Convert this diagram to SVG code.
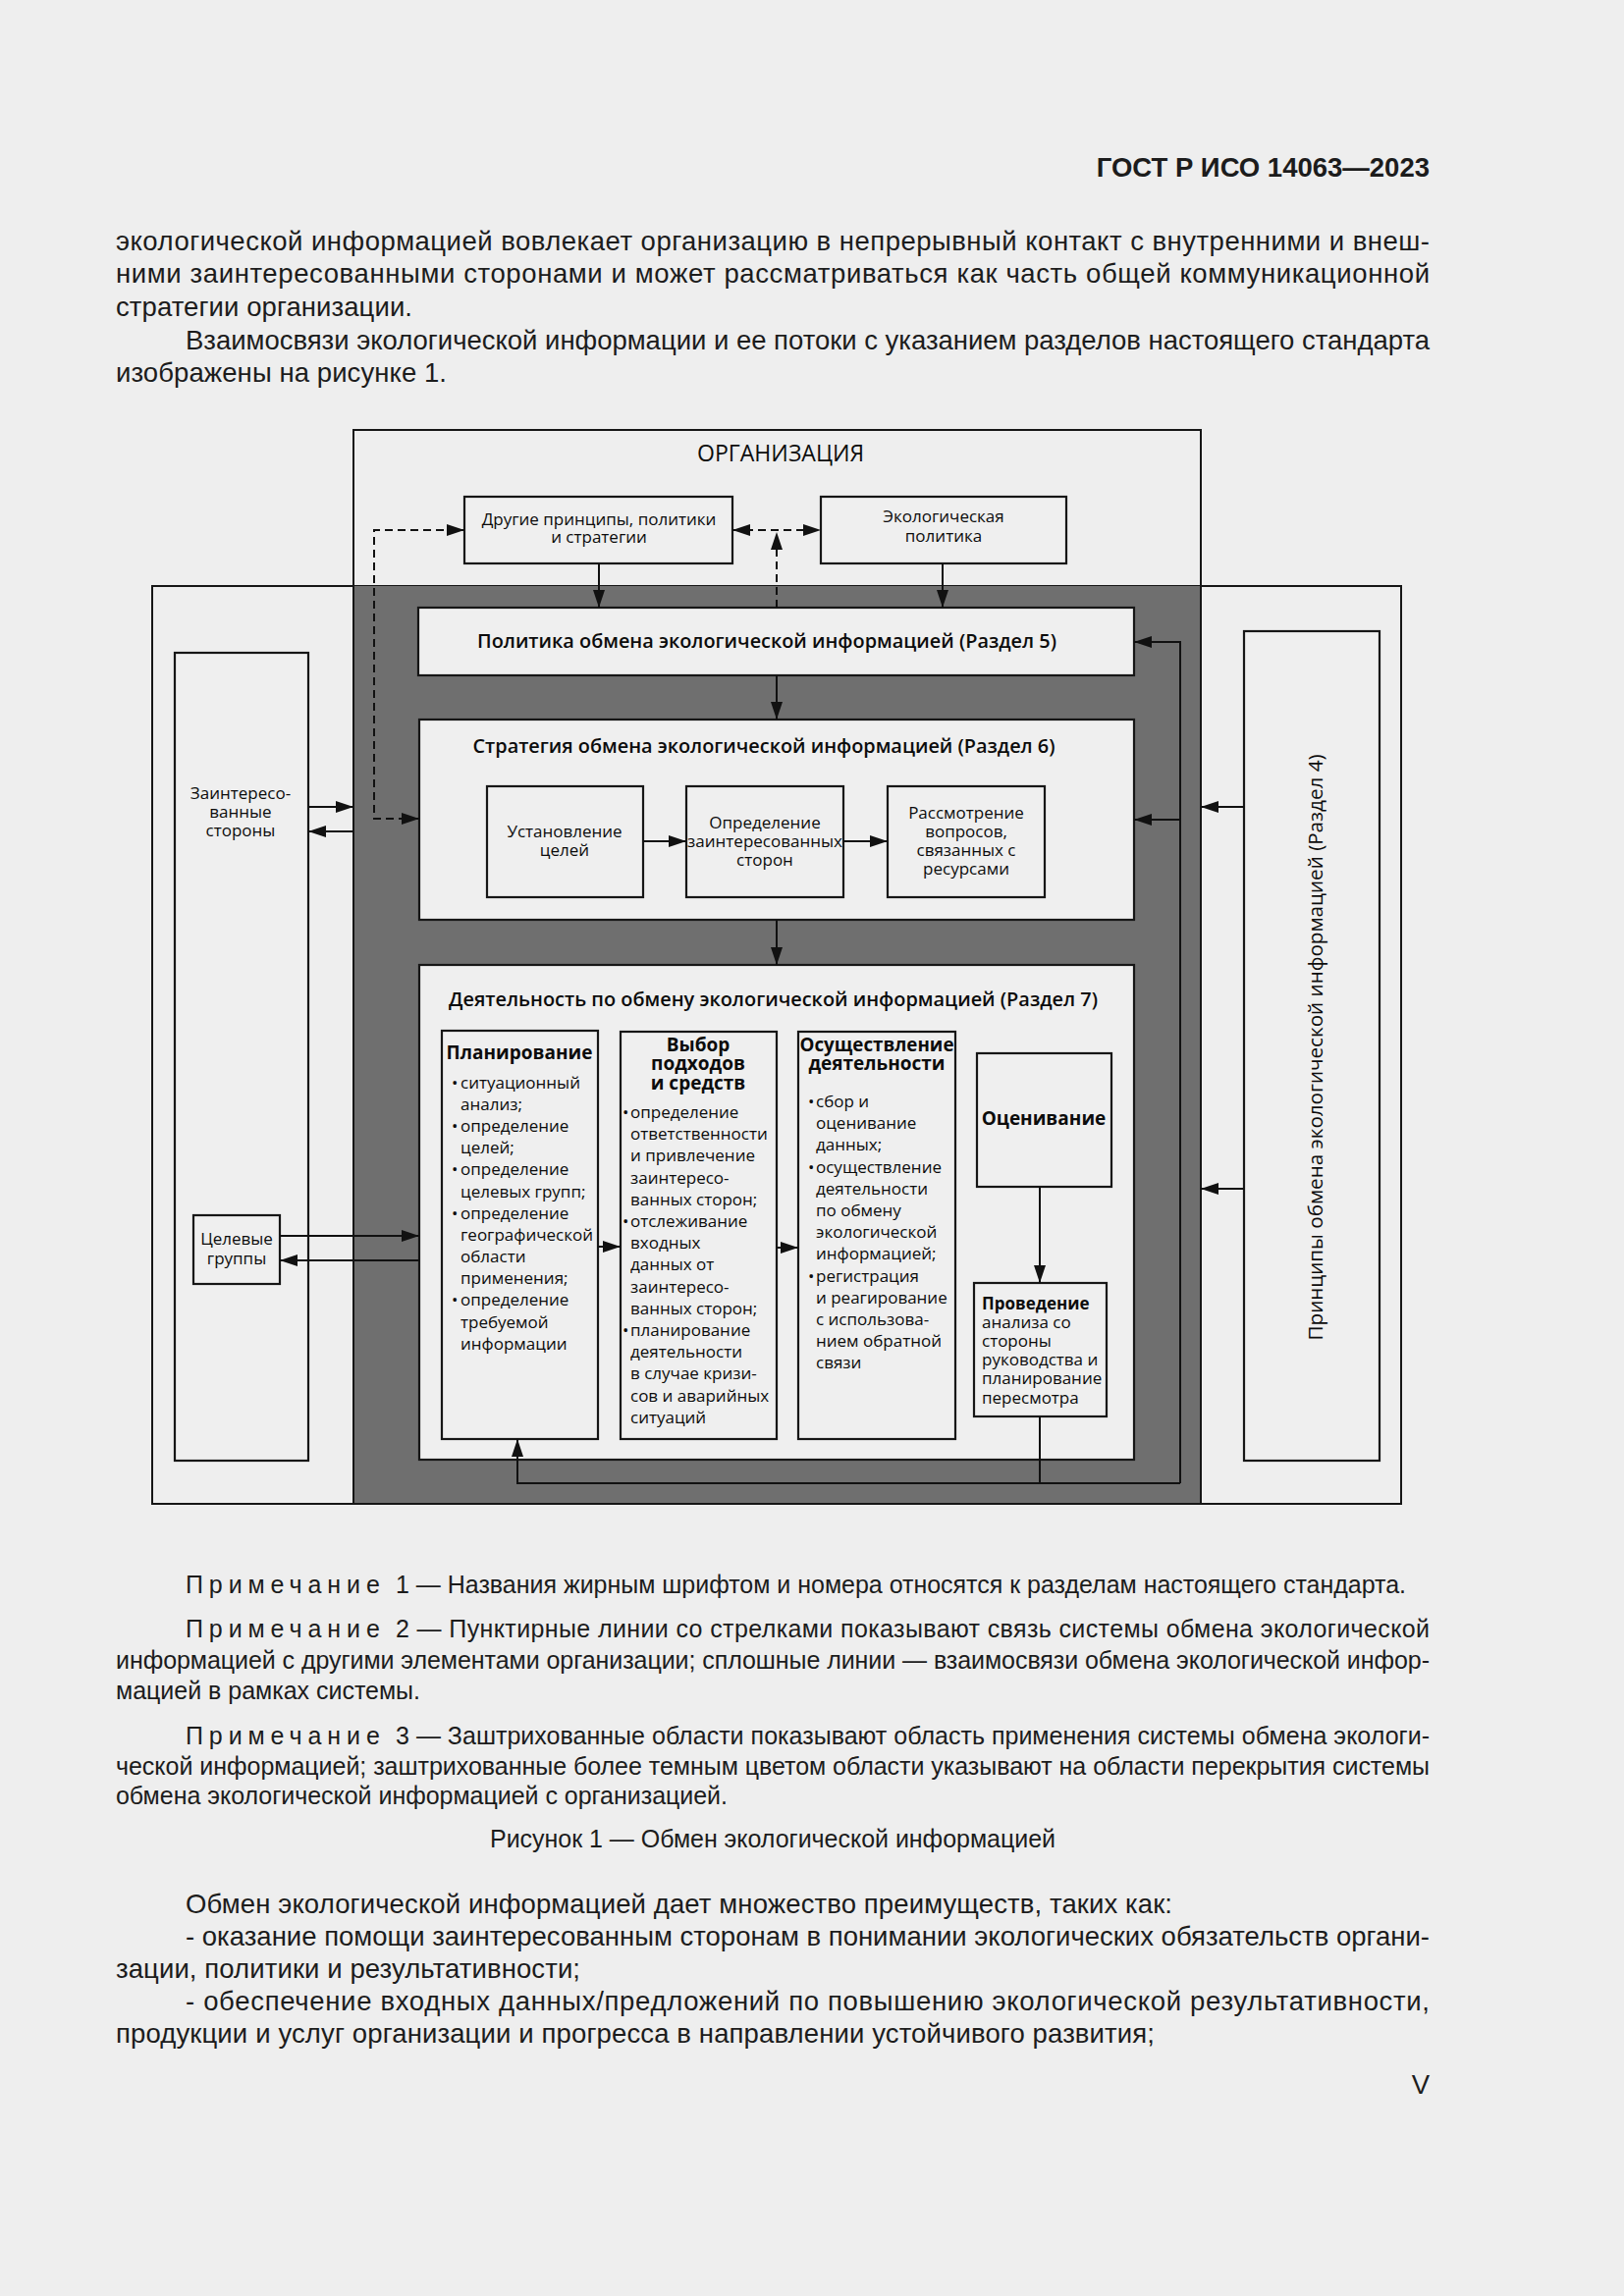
<svg xmlns="http://www.w3.org/2000/svg" width="1654" height="2339" viewBox="0 0 1654 2339">
<style>
.pg{font-family:"Liberation Sans",Arial,sans-serif;fill:#1c1c1c}
.b{font-size:27.5px}
.n{font-size:25px}
.d{font-family:"Open Sans","Noto Sans",sans-serif;fill:#0c0c0c;font-size:17px}
.c{text-anchor:middle}
.t{font-weight:600;font-size:19px}
.h{font-weight:700;font-size:19px}
.org{font-size:23px}
.rot{font-size:20px}
.box{fill:#efefef;stroke:#161616;stroke-width:2.2}
.frame{fill:none;stroke:#161616;stroke-width:2}
.ln{fill:none;stroke:#111;stroke-width:2}
.ds{fill:none;stroke:#111;stroke-width:2;stroke-dasharray:8 5}
</style>
<defs>
<marker id="ah" viewBox="0 0 18 12" markerWidth="18" markerHeight="12" refX="18" refY="6" orient="auto-start-reverse" markerUnits="userSpaceOnUse"><path d="M0,0 L18,6 L0,12 z" fill="#111"/></marker>
</defs>
<rect x="0" y="0" width="1654" height="2339" fill="#eeeeee"/>

<g id="page-text" class="pg">
<text x="1456" y="180" font-size="27.5" font-weight="700" text-anchor="end">ГОСТ Р ИСО 14063—2023</text>
<text class="b" x="118" y="255" textLength="1338" lengthAdjust="spacing">экологической информацией вовлекает организацию в непрерывный контакт с внутренними и внеш-</text>
<text class="b" x="118" y="288" textLength="1338" lengthAdjust="spacing">ними заинтересованными сторонами и может рассматриваться как часть общей коммуникационной</text>
<text class="b" x="118" y="322" textLength="302" lengthAdjust="spacing">стратегии организации.</text>
<text class="b" x="189" y="356" textLength="1267" lengthAdjust="spacing">Взаимосвязи экологической информации и ее потоки с указанием разделов настоящего стандарта</text>
<text class="b" x="118" y="389" textLength="337" lengthAdjust="spacing">изображены на рисунке 1.</text>

<text class="n" x="189" y="1623" letter-spacing="5.9">Примечание</text>
<text class="n" x="403" y="1623" textLength="1029" lengthAdjust="spacing">1 — Названия жирным шрифтом и номера относятся к разделам настоящего стандарта.</text>
<text class="n" x="189" y="1668" letter-spacing="5.9">Примечание</text>
<text class="n" x="403" y="1668" textLength="1053" lengthAdjust="spacing">2 — Пунктирные линии со стрелками показывают связь системы обмена экологической</text>
<text class="n" x="118" y="1700" textLength="1338" lengthAdjust="spacing">информацией с другими элементами организации; сплошные линии — взаимосвязи обмена экологической инфор-</text>
<text class="n" x="118" y="1731" textLength="310" lengthAdjust="spacing">мацией в рамках системы.</text>
<text class="n" x="189" y="1777" letter-spacing="5.9">Примечание</text>
<text class="n" x="403" y="1777" textLength="1053" lengthAdjust="spacing">3 — Заштрихованные области показывают область применения системы обмена экологи-</text>
<text class="n" x="118" y="1808" textLength="1338" lengthAdjust="spacing">ческой информацией; заштрихованные более темным цветом области указывают на области перекрытия системы</text>
<text class="n" x="118" y="1838" textLength="623" lengthAdjust="spacing">обмена экологической информацией с организацией.</text>
<text class="n" x="499" y="1882" textLength="576" lengthAdjust="spacing">Рисунок 1 — Обмен экологической информацией</text>

<text class="b" x="189" y="1949" textLength="1005" lengthAdjust="spacing">Обмен экологической информацией дает множество преимуществ, таких как:</text>
<text class="b" x="189" y="1982" textLength="1267" lengthAdjust="spacing">- оказание помощи заинтересованным сторонам в понимании экологических обязательств органи-</text>
<text class="b" x="118" y="2015" textLength="473" lengthAdjust="spacing">зации, политики и результативности;</text>
<text class="b" x="189" y="2048" textLength="1267" lengthAdjust="spacing">- обеспечение входных данных/предложений по повышению экологической результативности,</text>
<text class="b" x="118" y="2081" textLength="1058" lengthAdjust="spacing">продукции и услуг организации и прогресса в направлении устойчивого развития;</text>
<text class="b" x="1456" y="2133" text-anchor="end">V</text>
</g>

<g id="outer-frame">
<rect class="frame" x="155" y="597" width="1272" height="935"/>
</g>
<g id="shaded-area">
<rect x="360" y="597" width="863" height="935" fill="#6f6f6f"/>
</g>
<g id="organization">
<rect class="frame" x="360" y="438" width="863" height="1094"/>
<text class="d c org" x="795" y="470" textLength="170" lengthAdjust="spacingAndGlyphs">ОРГАНИЗАЦИЯ</text>
</g>

<g id="other-principles">
<rect class="box" x="473" y="506" width="273" height="68"/>
<text class="d c" x="610" y="535">Другие принципы, политики</text>
<text class="d c" x="610" y="553">и стратегии</text>
</g>
<g id="env-policy">
<rect class="box" x="836" y="506" width="250" height="68"/>
<text class="d c" x="961" y="532">Экологическая</text>
<text class="d c" x="961" y="552">политика</text>
</g>

<g id="policy">
<rect class="box" x="426" y="619" width="729" height="69"/>
<text class="d c t" x="781" y="660" textLength="590" lengthAdjust="spacingAndGlyphs">Политика обмена экологической информацией (Раздел 5)</text>
</g>

<g id="strategy">
<rect class="box" x="427" y="733" width="728" height="204"/>
<text class="d c t" x="778" y="767" textLength="593" lengthAdjust="spacingAndGlyphs">Стратегия обмена экологической информацией (Раздел 6)</text>
</g>
<g id="set-goals">
<rect class="box" x="496" y="801" width="159" height="113"/>
<text class="d c" x="575" y="853">Установление</text>
<text class="d c" x="575" y="872">целей</text>
</g>
<g id="identify-stakeholders">
<rect class="box" x="699" y="801" width="160" height="113"/>
<text class="d c" x="779" y="844">Определение</text>
<text class="d c" x="779" y="863">заинтересованных</text>
<text class="d c" x="779" y="882">сторон</text>
</g>
<g id="resources">
<rect class="box" x="904" y="801" width="160" height="113"/>
<text class="d c" x="984" y="834">Рассмотрение</text>
<text class="d c" x="984" y="853">вопросов,</text>
<text class="d c" x="984" y="872">связанных с</text>
<text class="d c" x="984" y="891">ресурсами</text>
</g>

<g id="stakeholders">
<rect class="box" x="178" y="665" width="136" height="823"/>
<text class="d c" x="245" y="814">Заинтересо-</text>
<text class="d c" x="245" y="833">ванные</text>
<text class="d c" x="245" y="852">стороны</text>
</g>
<g id="target-groups">
<rect class="box" x="197" y="1238" width="88" height="70"/>
<text class="d c" x="241" y="1268">Целевые</text>
<text class="d c" x="241" y="1288">группы</text>
</g>

<g id="principles">
<rect class="box" x="1267" y="643" width="138" height="845"/>
<text class="d c rot" x="0" y="0" transform="translate(1347,1067) rotate(-90)" textLength="597" lengthAdjust="spacingAndGlyphs">Принципы обмена экологической информацией (Раздел 4)</text>
</g>

<g id="activities">
<rect class="box" x="427" y="983" width="728" height="504"/>
<text class="d t" x="457" y="1025" textLength="661" lengthAdjust="spacingAndGlyphs">Деятельность по обмену экологической информацией (Раздел 7)</text>
</g>

<g id="planning">
<rect class="box" x="450" y="1050" width="159" height="416"/>
<text class="d c h" x="529" y="1079">Планирование</text>
<text class="d" x="460" y="1109">•</text><text class="d" x="469" y="1109">ситуационный</text>
<text class="d" x="469" y="1131">анализ;</text>
<text class="d" x="460" y="1153">•</text><text class="d" x="469" y="1153">определение</text>
<text class="d" x="469" y="1175">целей;</text>
<text class="d" x="460" y="1197">•</text><text class="d" x="469" y="1197">определение</text>
<text class="d" x="469" y="1220">целевых групп;</text>
<text class="d" x="460" y="1242">•</text><text class="d" x="469" y="1242">определение</text>
<text class="d" x="469" y="1264">географической</text>
<text class="d" x="469" y="1286">области</text>
<text class="d" x="469" y="1308">применения;</text>
<text class="d" x="460" y="1330">•</text><text class="d" x="469" y="1330">определение</text>
<text class="d" x="469" y="1353">требуемой</text>
<text class="d" x="469" y="1375">информации</text>
</g>

<g id="choice">
<rect class="box" x="632" y="1051" width="159" height="415"/>
<text class="d c h" x="711" y="1071">Выбор</text>
<text class="d c h" x="711" y="1090">подходов</text>
<text class="d c h" x="711" y="1110">и средств</text>
<text class="d" x="634" y="1139">•</text><text class="d" x="642" y="1139">определение</text>
<text class="d" x="642" y="1161">ответственности</text>
<text class="d" x="642" y="1183">и привлечение</text>
<text class="d" x="642" y="1206">заинтересо-</text>
<text class="d" x="642" y="1228">ванных сторон;</text>
<text class="d" x="634" y="1250">•</text><text class="d" x="642" y="1250">отслеживание</text>
<text class="d" x="642" y="1272">входных</text>
<text class="d" x="642" y="1294">данных от</text>
<text class="d" x="642" y="1317">заинтересо-</text>
<text class="d" x="642" y="1339">ванных сторон;</text>
<text class="d" x="634" y="1361">•</text><text class="d" x="642" y="1361">планирование</text>
<text class="d" x="642" y="1383">деятельности</text>
<text class="d" x="642" y="1405">в случае кризи-</text>
<text class="d" x="642" y="1428">сов и аварийных</text>
<text class="d" x="642" y="1450">ситуаций</text>
</g>

<g id="implementation">
<rect class="box" x="813" y="1051" width="160" height="415"/>
<text class="d c h" x="893" y="1071" textLength="157" lengthAdjust="spacingAndGlyphs">Осуществление</text>
<text class="d c h" x="893" y="1090">деятельности</text>
<text class="d" x="823" y="1128">•</text><text class="d" x="831" y="1128">сбор и</text>
<text class="d" x="831" y="1150">оценивание</text>
<text class="d" x="831" y="1172">данных;</text>
<text class="d" x="823" y="1195">•</text><text class="d" x="831" y="1195">осуществление</text>
<text class="d" x="831" y="1217">деятельности</text>
<text class="d" x="831" y="1239">по обмену</text>
<text class="d" x="831" y="1261">экологической</text>
<text class="d" x="831" y="1283">информацией;</text>
<text class="d" x="823" y="1306">•</text><text class="d" x="831" y="1306">регистрация</text>
<text class="d" x="831" y="1328">и реагирование</text>
<text class="d" x="831" y="1350">с использова-</text>
<text class="d" x="831" y="1372">нием обратной</text>
<text class="d" x="831" y="1394">связи</text>
</g>

<g id="evaluation">
<rect class="box" x="995" y="1073" width="137" height="136"/>
<text class="d c h" x="1063" y="1146">Оценивание</text>
</g>

<g id="review">
<rect class="box" x="992" y="1307" width="135" height="136"/>
<text class="d" x="1000" y="1334" font-weight="700">Проведение</text>
<text class="d" x="1000" y="1353">анализа со</text>
<text class="d" x="1000" y="1372">стороны</text>
<text class="d" x="1000" y="1391">руководства и</text>
<text class="d" x="1000" y="1410">планирование</text>
<text class="d" x="1000" y="1430">пересмотра</text>
</g>

<g id="connectors">
<path class="ds" d="M746,540 L836,540" marker-start="url(#ah)" marker-end="url(#ah)"/>
<path class="ds" d="M791,619 L791,542" marker-end="url(#ah)"/>
<path class="ds" d="M427,834 L381,834 L381,540 L473,540" marker-start="url(#ah)" marker-end="url(#ah)"/>
<path class="ln" d="M610,574 L610,619" marker-end="url(#ah)"/>
<path class="ln" d="M960,574 L960,619" marker-end="url(#ah)"/>
<path class="ln" d="M791,688 L791,733" marker-end="url(#ah)"/>
<path class="ln" d="M791,937 L791,983" marker-end="url(#ah)"/>
<path class="ln" d="M655,857 L699,857" marker-end="url(#ah)"/>
<path class="ln" d="M859,857 L904,857" marker-end="url(#ah)"/>
<path class="ln" d="M314,822 L360,822" marker-end="url(#ah)"/>
<path class="ln" d="M360,847 L314,847" marker-end="url(#ah)"/>
<path class="ln" d="M285,1259 L427,1259" marker-end="url(#ah)"/>
<path class="ln" d="M427,1284 L285,1284" marker-end="url(#ah)"/>
<path class="ln" d="M609,1270 L632,1270" marker-end="url(#ah)"/>
<path class="ln" d="M791,1271 L813,1271" marker-end="url(#ah)"/>
<path class="ln" d="M1059,1209 L1059,1307" marker-end="url(#ah)"/>
<path class="ln" d="M1059,1443 L1059,1511"/>
<path class="ln" d="M1202,1511 L527,1511 L527,1466" marker-end="url(#ah)"/>
<path class="ln" d="M1202,1511 L1202,654 L1155,654" marker-end="url(#ah)"/>
<path class="ln" d="M1202,835 L1155,835" marker-end="url(#ah)"/>
<path class="ln" d="M1267,822 L1223,822" marker-end="url(#ah)"/>
<path class="ln" d="M1267,1211 L1223,1211" marker-end="url(#ah)"/>
</g>
</svg>
